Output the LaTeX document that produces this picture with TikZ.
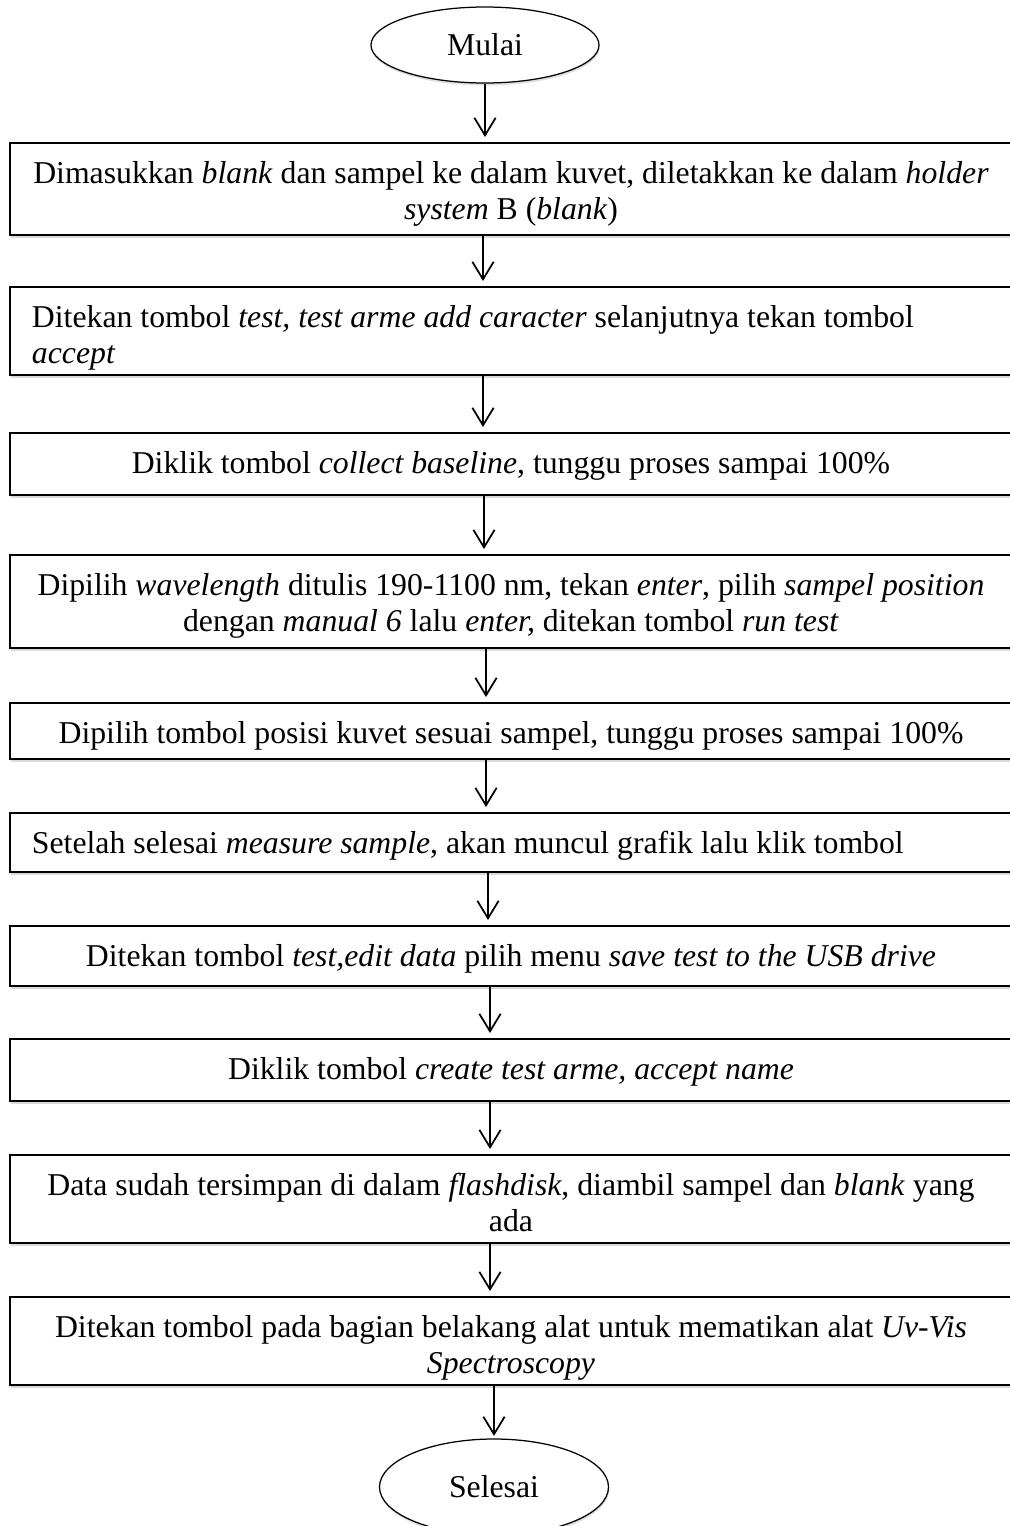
\documentclass[tikz,border=0pt]{standalone}
\usepackage{fontspec}
\setmainfont{Liberation Serif}
\usetikzlibrary{arrows.meta,shapes,positioning,shadows}

\begin{document}
\begin{tikzpicture}[x=0.4pt,y=-0.4pt,>={Straight Barb[length=7pt,width=8.5pt]},line width=0.8pt,
  box node/.style={draw,fill=white,minimum width=400.8pt,inner sep=0pt,
    drop shadow={shadow xshift=0.3pt,shadow yshift=-1.2pt,opacity=.3}},
  end node/.style={draw,ellipse,fill=white,line width=0.5pt,inner sep=0pt,
    font=\fontsize{12.7}{14.4}\selectfont,
    drop shadow={shadow xshift=0.3pt,shadow yshift=-1pt,opacity=.25}},
  text node/.style={inner sep=0pt,align=center,font=\fontsize{12.7}{14.4}\selectfont}]

  \useasboundingbox (0,0) rectangle (1009,1526);

  \node[end node,minimum width=91.2pt,minimum height=30.4pt] (0) at (485,45) {Mulai};

  \foreach \n/\y/\h in {1/189/36.8, 2/331/35.2, 3/464/24.8, 4/601.5/37.2, 5/731/22.4,
      6/842.5/23.6, 7/956/24, 8/1070/24.8, 9/1199/35.2, 10/1341/35.2}
    \node[box node,minimum height=\h pt] (\n) at (511,\y) {};

  \node[end node,minimum width=91.6pt,minimum height=38.4pt] (11) at (494,1487) {Selesai};

  \node[text node,below=6.3pt of 1.north] (1t) {\strut Dimasukkan \textit{blank} dan sampel ke dalam kuvet, diletakkan ke dalam \textit{holder}\\
    \textit{system} B (\textit{blank})};
  \node[text node,align=left,below right=6.3pt and 8.8pt of 2.north west] (2t) {\strut Ditekan tombol \textit{test, test arme add caracter} selanjutnya tekan tombol\\
    \textit{accept}};
  \node[text node,below=6.3pt of 3.north] (3t) {\strut Diklik tombol \textit{collect baseline}, tunggu proses sampai 100\%};
  \node[text node,below=6.3pt of 4.north] (4t) {\strut Dipilih \textit{wavelength} ditulis 190-1100 nm, tekan \textit{enter}, pilih \textit{sampel position}\\
    dengan \textit{manual 6} lalu \textit{enter,} ditekan tombol \textit{run test}};
  \node[text node,below=6.3pt of 5.north] (5t) {\strut Dipilih tombol posisi kuvet sesuai sampel, tunggu proses sampai 100\%};
  \node[text node,align=left,below right=6.3pt and 8.8pt of 6.north west] (6t) {\strut Setelah selesai \textit{measure sample}, akan muncul grafik lalu klik tombol};
  \node[text node,below=6.3pt of 7.north] (7t) {\strut Ditekan tombol \textit{test,edit data} pilih menu \textit{save test to the USB drive}};
  \node[text node,below=6.3pt of 8.north] (8t) {\strut Diklik tombol \textit{create test arme, accept name}};
  \node[text node,below=6.3pt of 9.north] (9t) {\strut Data sudah tersimpan di dalam \textit{flashdisk}, diambil sampel dan \textit{blank} yang\\
    ada};
  \node[text node,below=6.3pt of 10.north] (10t) {\strut Ditekan tombol pada bagian belakang alat untuk mematikan alat \textit{Uv-Vis}\\
    \textit{Spectroscopy}};

  \draw[->,shorten >=2pt,line width=0.7pt] (0.south) -- (0.south |- 1.north);
  \foreach \a/\b/\s in {1/2/-11.2, 2/3/-11.2, 3/4/-10.8, 4/5/-10, 5/6/-10,
      6/7/-9.2, 7/8/-8.4, 8/9/-8.4, 9/10/-8.4}
    \draw[->,shorten >=2pt,line width=0.7pt] ([xshift=\s pt]\a.south) -- ([xshift=\s pt]\b.north);
  \draw[->,shorten >=1pt,line width=0.7pt] (11.north |- 10.south) -- (11.north);
\end{tikzpicture}
\end{document}
